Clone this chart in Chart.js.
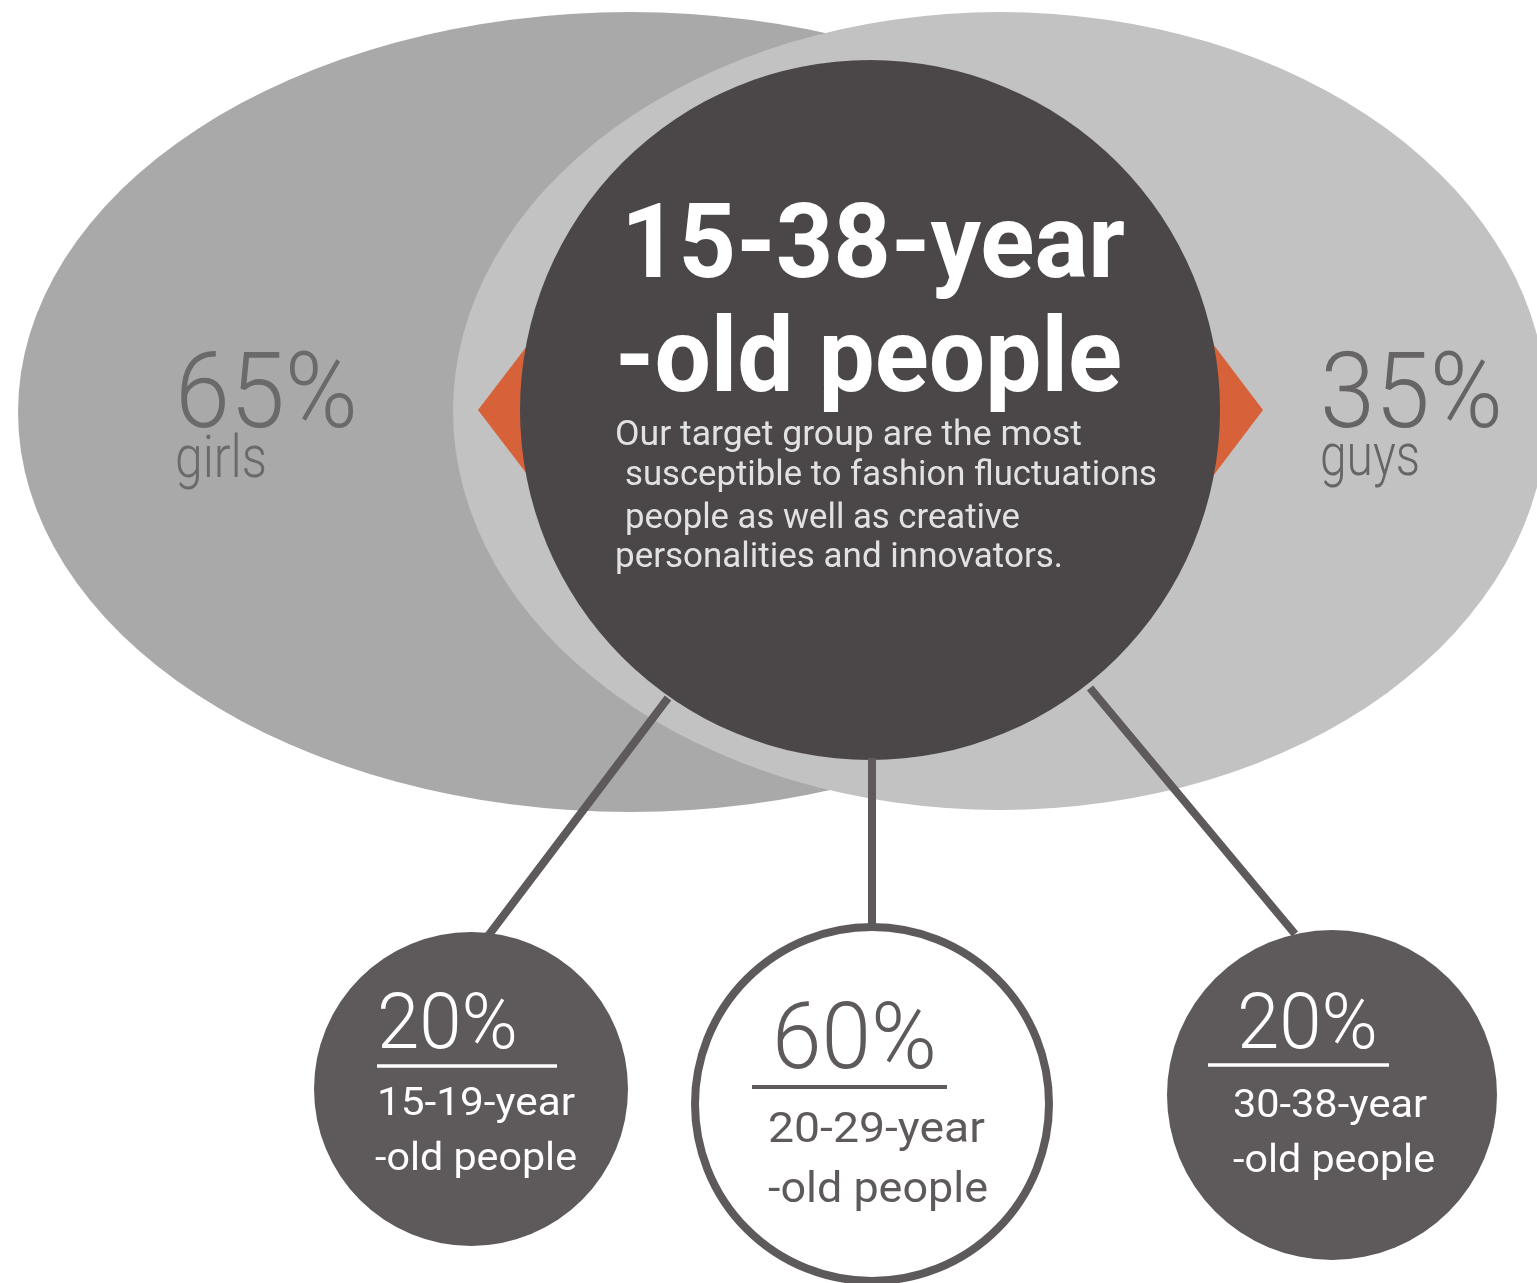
<!DOCTYPE html>
<html>
<head>
<meta charset="utf-8">
<title>Target group</title>
<script src="https://cdn.jsdelivr.net/npm/chart.js@4.4.1/dist/chart.umd.min.js"></script>
<style>
  html, body { margin: 0; padding: 0; background: #ffffff; overflow: hidden; }
  canvas { display: block; }
</style>
</head>
<body>
<canvas id="grafico" width="1537" height="1283"></canvas>
<script>
// datos
const genderLabels = ['girls', 'guys'];
const genderShares = [65, 35];
const ageLabels = ['15-19-year', '20-29-year', '30-38-year'];
const ageShares = [20, 60, 20];
const titleLines = ['15-38-year', '-old people'];
const blurbLines = [
    'Our target group are the most',
    'susceptible to fashion fluctuations',
    'people as well as creative',
    'personalities and innovators.'
];

// layout (unidades de la escala, 1 unidad = 1 px)
const ovalX = [630, 1000], ovalY = [412, 411], ovalRX = [612, 547], ovalRY = [400, 399];
const ovalColors = ['#a9a9a9', '#c2c2c2'];
const hubX = 870, hubY = 410, hubR = 350;
const ageX = [471, 872, 1332], ageY = [1089, 1104, 1095], ageR = [157, 177, 165];
const linkFrom = [[668, 698], [872, 758], [1090, 688]];
const linkTo = [[488, 936], [872, 930], [1295, 934]];
const diamonds = [[530, 410, 52, 68], [1210, 410, 53, 70]];

const dark = '#4b4748';
const mid = '#5e5a5b';
const orange = '#d7623a';

function fitText(ctx, text, left, base, width, font, color) {
    ctx.save();
    ctx.font = font;
    ctx.fillStyle = color;
    ctx.textBaseline = 'alphabetic';
    ctx.textAlign = 'left';
    const w = ctx.measureText(text).width;
    ctx.translate(left, base);
    ctx.scale(width / w, 1);
    ctx.fillText(text, 0, 0);
    ctx.restore();
}

// Óvalos y rombos debajo de los datasets
const fondoPlugin = {
    id: 'fondo',
    beforeDatasetsDraw(chart) {
        const ctx = chart.ctx;
        const xs = chart.scales.x, ys = chart.scales.y;
        for (let i = 0; i < genderShares.length; i++) {
            const cx = xs.getPixelForValue(ovalX[i]);
            const cy = ys.getPixelForValue(ovalY[i]);
            const rx = xs.getPixelForValue(ovalX[i] + ovalRX[i]) - cx;
            const ry = ys.getPixelForValue(ovalY[i] + ovalRY[i]) - cy;
            ctx.save();
            ctx.fillStyle = ovalColors[i];
            ctx.beginPath();
            ctx.ellipse(cx, cy, rx, ry, 0, 0, Math.PI * 2);
            ctx.fill();
            ctx.restore();
        }
        diamonds.forEach(d => {
            const cx = xs.getPixelForValue(d[0]), cy = ys.getPixelForValue(d[1]);
            const w = xs.getPixelForValue(d[0] + d[2]) - cx;
            const h = ys.getPixelForValue(d[1] + d[3]) - cy;
            ctx.save();
            ctx.fillStyle = orange;
            ctx.beginPath();
            ctx.moveTo(cx - w, cy);
            ctx.lineTo(cx, cy - h);
            ctx.lineTo(cx + w, cy);
            ctx.lineTo(cx, cy + h);
            ctx.closePath();
            ctx.fill();
            ctx.restore();
        });
    }
};

// Textos encima
const textoPlugin = {
    id: 'texto',
    afterDatasetsDraw(chart) {
        const ctx = chart.ctx;
        const xs = chart.scales.x, ys = chart.scales.y;
        const px = (v) => xs.getPixelForValue(v);
        const py = (v) => ys.getPixelForValue(v);
        const light = (s) => `300 ${s}px Roboto, "Open Sans", sans-serif`;
        const regular = (s) => `400 ${s}px Roboto, "Open Sans", sans-serif`;
        const bold = (s) => `700 ${s}px Roboto, "DejaVu Sans", sans-serif`;

        // porcentajes de género
        fitText(ctx, genderShares[0] + '%', px(175), py(427), 183, light(105), '#6a6a6a');
        fitText(ctx, genderLabels[0], px(175), py(477), 92, light(60), '#6a6a6a');
        fitText(ctx, genderShares[1] + '%', px(1320), py(427), 183, light(105), '#666464');
        fitText(ctx, genderLabels[1], px(1320), py(475), 100, light(60), '#666464');

        // titulo
        fitText(ctx, titleLines[0], px(621), py(277), 504, bold(104), '#ffffff');
        fitText(ctx, titleLines[1], px(615), py(391), 507, bold(104), '#ffffff');

        const blurbPos = [[615, 445, 467], [625, 485, 532], [625, 528, 395], [615, 567, 448]];
        blurbLines.forEach((t, i) => {
            fitText(ctx, t, px(blurbPos[i][0]), py(blurbPos[i][1]), blurbPos[i][2], regular(35), '#e2e2e2');
        });

        // circulos de edad
        const ageText = [
            { pct: [377, 1048, 141, 77], rule: [377, 557, 1066, 3.5], l1: [377, 1115, 198, 38], l2: [375, 1170, 202, 38], color: '#ffffff' },
            { pct: [772, 1068, 165, 92], rule: [752, 947, 1087, 4], l1: [768, 1142, 217, 42], l2: [768, 1202, 220, 42], color: mid },
            { pct: [1237, 1048, 141, 77], rule: [1208, 1389, 1065, 3.5], l1: [1233, 1117, 194, 38], l2: [1233, 1172, 202, 38], color: '#ffffff' }
        ];
        ageText.forEach((a, i) => {
            fitText(ctx, ageShares[i] + '%', px(a.pct[0]), py(a.pct[1]), a.pct[2], light(a.pct[3]), a.color);
            ctx.save();
            ctx.strokeStyle = a.color;
            ctx.lineWidth = a.rule[3];
            ctx.beginPath();
            ctx.moveTo(px(a.rule[0]), py(a.rule[2]));
            ctx.lineTo(px(a.rule[1]), py(a.rule[2]));
            ctx.stroke();
            ctx.restore();
            fitText(ctx, ageLabels[i], px(a.l1[0]), py(a.l1[1]), a.l1[2], regular(a.l1[3]), a.color);
            fitText(ctx, '-old people', px(a.l2[0]), py(a.l2[1]), a.l2[2], regular(a.l2[3]), a.color);
        });
    }
};

// Lineas de conexión con huecos (null) entre segmentos
const linkData = [];
linkFrom.forEach((p, i) => {
    linkData.push({ x: p[0], y: p[1] });
    linkData.push({ x: linkTo[i][0], y: linkTo[i][1] });
    linkData.push({ x: null, y: null });
});

const ctx = document.getElementById('grafico').getContext('2d');
new Chart(ctx, {
    type: 'bubble',
    data: {
        datasets: [
            {
                label: 'Edades',
                data: ageShares.map((v, i) => ({ x: ageX[i], y: ageY[i], r: ageR[i], v: v })),
                backgroundColor: [mid, '#ffffff', mid],
                borderColor: [mid, mid, mid],
                borderWidth: [0, 8, 0],
                clip: false,
                order: 1
            },
            {
                type: 'line',
                label: 'Conexiones',
                data: linkData,
                showLine: true,
                spanGaps: false,
                borderColor: mid,
                borderWidth: 8,
                pointRadius: 0,
                fill: false,
                clip: false,
                order: 2
            },
            {
                label: 'Grupo',
                data: [{ x: hubX, y: hubY, r: hubR }],
                backgroundColor: dark,
                borderWidth: 0,
                clip: false,
                order: 3
            }
        ]
    },
    options: {
        responsive: false,
        animation: false,
        events: [],
        layout: { padding: 0, autoPadding: false },
        plugins: {
            legend: { display: false },
            tooltip: { enabled: false }
        },
        scales: {
            x: { type: 'linear', min: 0, max: 1537, display: false },
            y: { type: 'linear', min: 0, max: 1283, reverse: true, display: false }
        }
    },
    plugins: [fondoPlugin, textoPlugin]
});
</script>
</body>
</html>
